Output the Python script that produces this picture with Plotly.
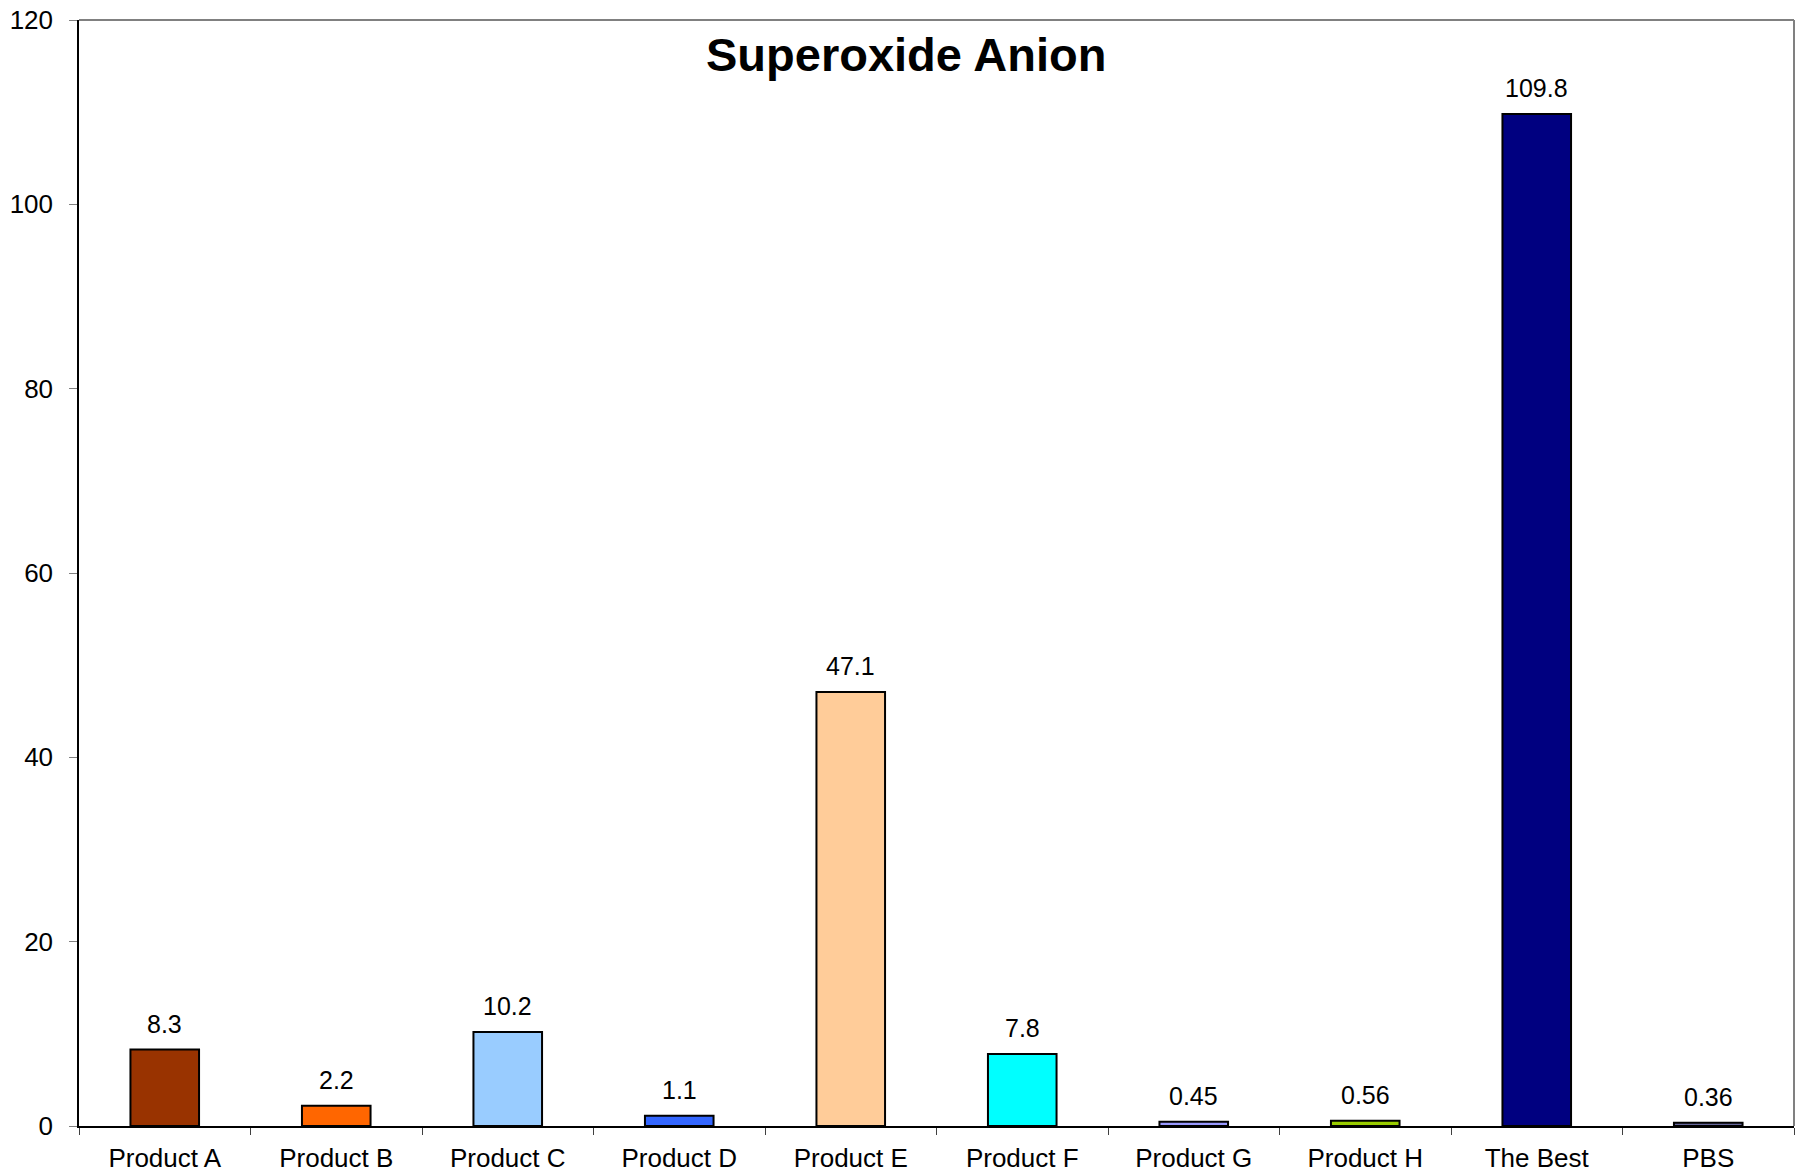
import plotly.graph_objects as go

categories = ["Product A", "Product B", "Product C", "Product D", "Product E",
              "Product F", "Product G", "Product H", "The Best", "PBS"]
values = [8.3, 2.2, 10.2, 1.1, 47.1, 7.8, 0.45, 0.56, 109.8, 0.36]
labels = ["8.3", "2.2", "10.2", "1.1", "47.1", "7.8", "0.45", "0.56", "109.8", "0.36"]
colors = ["#993300", "#FF6600", "#99CCFF", "#3366FF", "#FFCC99",
          "#00FFFF", "#9999FF", "#99CC00", "#000080", "#666699"]
y_ticks = [0, 20, 40, 60, 80, 100, 120]

FONT = "Liberation Sans, Arial, sans-serif"

fig = go.Figure()
fig.add_trace(go.Bar(
    x=categories, y=values,
    marker=dict(color=colors, line=dict(color="black", width=2)),
    hoverinfo="x+y",
))

for c, v, t in zip(categories, values, labels):
    fig.add_annotation(x=c, y=v, text=t, showarrow=False, yanchor="bottom",
                       yshift=10, font=dict(family=FONT, size=25, color="black"))

W, H = 1807, 1175
L, R, T, B = 79, 13, 20, 49
pw = W - L - R
title_x = (906 - L) / pw
fig.add_annotation(xref="paper", yref="paper", x=title_x, y=1 - 34 / (H - T - B),
                   text="<b>Superoxide Anion</b>", showarrow=False,
                   xanchor="center", yanchor="middle",
                   font=dict(family=FONT, size=47, color="black"))

# gray top/right frame
fig.add_shape(type="line", xref="paper", yref="paper", x0=0, x1=1, y0=1, y1=1,
              line=dict(color="#808080", width=2))
fig.add_shape(type="line", xref="paper", yref="paper", x0=1, x1=1, y0=0, y1=1,
              line=dict(color="#808080", width=2))

fig.update_layout(
    width=W, height=H,
    margin=dict(l=L, r=R, t=T, b=B, pad=0, autoexpand=False),
    plot_bgcolor="white", paper_bgcolor="white",
    bargap=0.6, showlegend=False,
    font=dict(family=FONT, size=26, color="black"),
)
fig.update_xaxes(type="category", showline=True, linecolor="black", linewidth=1.5,
                 ticks="outside", tickson="boundaries", ticklen=7, tickcolor="#404040",
                 tickwidth=1, showgrid=False, ticklabelstandoff=8, automargin=False,
                 tickfont=dict(family=FONT, size=26, color="black"))
fig.update_yaxes(range=[0, 120], tickvals=y_ticks, showline=True, linecolor="black",
                 linewidth=1.5, ticks="outside", ticklen=8, tickcolor="#808080",
                 tickwidth=1, showgrid=False, zeroline=False, ticklabelstandoff=11,
                 automargin=False,
                 tickfont=dict(family=FONT, size=26, color="black"))

fig.write_html("out.html", config={"displayModeBar": False},
               post_script="document.body.style.margin='0';document.body.style.overflow='hidden';")
